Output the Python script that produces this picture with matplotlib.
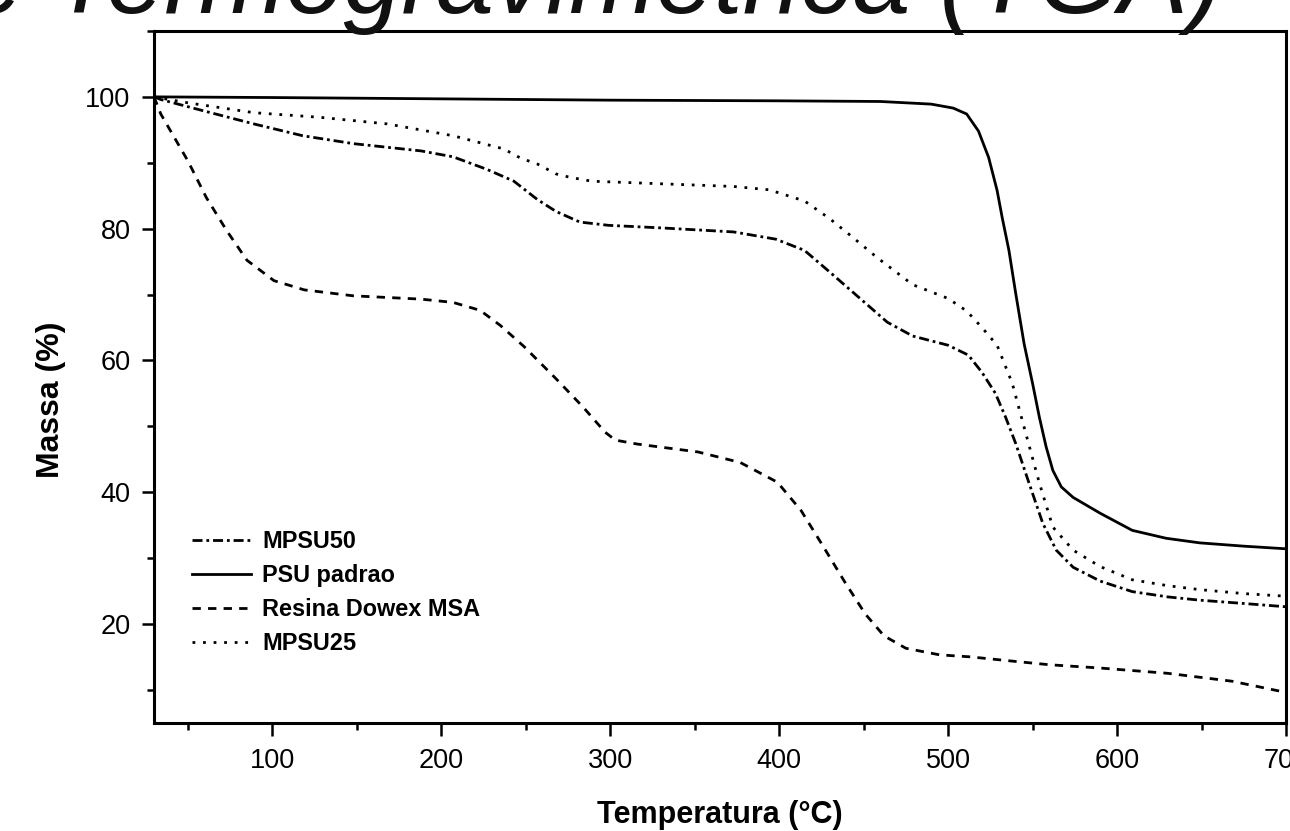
import matplotlib
matplotlib.use("Agg")
import matplotlib.pyplot as plt
from matplotlib.ticker import MultipleLocator

plt.rcParams['font.family'] = ['Liberation Sans', 'DejaVu Sans']

# curvas TGA (temperatura em C, massa em %)
t_mpsu50 = [30, 34, 59, 89, 118, 148, 188, 207, 227, 243, 257, 268, 282, 299, 331, 373, 398, 415,
            430, 447, 464, 479, 500, 512, 520, 528, 534, 540, 548, 556, 564, 574, 590, 609, 630,
            649, 675, 700]
m_mpsu50 = [100, 99.6, 97.9, 95.9, 94.1, 92.9, 91.8, 90.9, 89.0, 87.2, 84.4, 82.6, 81.0, 80.5, 80.1,
            79.5, 78.4, 76.7, 73.4, 69.6, 65.8, 63.7, 62.3, 60.8, 58.2, 55.0, 51.4, 47.4, 41.3, 35.3,
            31.2, 28.6, 26.5, 24.9, 24.1, 23.6, 23.1, 22.6]

t_psu = [30, 100, 200, 300, 400, 460, 490, 503, 511, 518, 524, 529, 532, 536, 540, 545, 550, 554,
         558, 562, 567, 574, 590, 609, 629, 649, 675, 700]
m_psu = [100, 99.9, 99.7, 99.5, 99.4, 99.3, 98.9, 98.3, 97.4, 94.8, 90.8, 85.8, 81.7, 76.7, 70.2,
         62.5, 56.5, 51.4, 46.9, 43.3, 40.8, 39.2, 36.8, 34.2, 33.0, 32.3, 31.8, 31.4]

t_resina = [30, 34, 50, 61, 73, 85, 101, 119, 148, 188, 207, 223, 235, 249, 268, 284, 297, 303, 316,
            352, 377, 399, 413, 426, 439, 451, 462, 475, 495, 513, 540, 560, 590, 630, 668, 700]
m_resina = [100, 97.4, 90.3, 84.7, 79.7, 75.2, 72.1, 70.7, 69.8, 69.3, 68.8, 67.6, 65.3, 62.1, 57.2,
            52.9, 49.1, 47.9, 47.3, 46.1, 44.5, 41.5, 37.2, 31.8, 26.3, 21.5, 18.2, 16.3, 15.3, 15.0,
            14.3, 13.8, 13.3, 12.5, 11.3, 9.6]

t_mpsu25 = [30, 50, 89, 128, 168, 207, 237, 247, 257, 268, 276, 289, 331, 373, 394, 415, 430, 443,
            458, 479, 500, 511, 520, 529, 538, 546, 554, 562, 574, 590, 609, 630, 649, 675, 700]
m_mpsu25 = [100, 99.1, 97.6, 96.9, 95.9, 94.1, 92.1, 90.7, 89.8, 88.3, 87.8, 87.2, 86.8, 86.4, 85.9,
            84.2, 81.5, 78.8, 75.6, 71.5, 69.4, 67.5, 65.0, 62.3, 56.5, 48.9, 41.4, 34.7, 31.2, 28.7,
            26.7, 25.8, 25.2, 24.6, 24.2]

labels = ['MPSU50', 'PSU padrao', 'Resina Dowex MSA', 'MPSU25']

fig = plt.figure(figsize=(12.9, 8.31), dpi=100)
ax = fig.add_axes([0.1194, 0.1303, 0.8775, 0.8324])

lw = 2.0
ax.plot(t_mpsu50, m_mpsu50, color='black', lw=lw, dashes=(3.6, 1.4, 1.0, 1.4), label=labels[0])
ax.plot(t_psu, m_psu, color='black', lw=lw, label=labels[1])
ax.plot(t_resina, m_resina, color='black', lw=lw, dashes=(3.0, 2.6), label=labels[2])
ax.plot(t_mpsu25, m_mpsu25, color='black', lw=lw, dashes=(1.0, 2.8), label=labels[3])

ax.set_xlim(30, 700)
ax.set_ylim(5, 110)
ax.xaxis.set_major_locator(MultipleLocator(100))
ax.xaxis.set_minor_locator(MultipleLocator(50))
ax.yaxis.set_major_locator(MultipleLocator(20))
ax.yaxis.set_minor_locator(MultipleLocator(10))
ax.tick_params(which='both', direction='out', width=1.8, labelsize=19.5)
ax.tick_params(which='major', length=9)
ax.tick_params(which='minor', length=5)
ax.tick_params(axis='x', pad=9)
ax.tick_params(axis='y', pad=8)
for s in ax.spines.values():
    s.set_linewidth(2.2)

ax.set_xlabel('Temperatura (°C)', fontsize=22, fontweight='bold', labelpad=19)
ax.set_ylabel('Massa (%)', fontsize=23, fontweight='bold')
ax.yaxis.set_label_coords(-0.078, 0.467)

leg = ax.legend(loc='upper left', bbox_to_anchor=(0.0336, 0.279), frameon=False,
                borderaxespad=0, borderpad=0, handlelength=2.5, handletextpad=0.5,
                labelspacing=0.47, prop={'weight': 'bold', 'size': 16.9})

# titulo do slide, cortado no topo da imagem
fig.text(0.948, 1 - 13 / 831, 'Análise Termogravimétrica (TGA)', ha='right', va='baseline',
         fontsize=75, style='italic', color='#111111')

fig.savefig('out.png', dpi=100)
